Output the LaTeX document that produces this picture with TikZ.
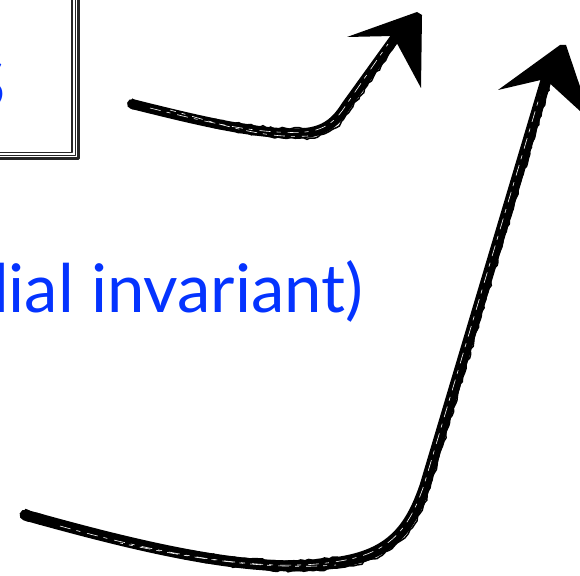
\documentclass[tikz,border=0pt]{standalone}
\usepackage{fontspec}
\setmainfont{Lato}
\usepackage{tikz}
\usetikzlibrary{positioning,decorations.pathmorphing}
\definecolor{SlideBlue}{HTML}{0433FF}

\begin{document}
\begin{tikzpicture}[x=1pt, y=-1pt, every node/.style={inner sep=0pt, text=SlideBlue, font=\fontsize{67}{72}\selectfont}, sketch/.style={draw=black!85, line join=round}, brush/.style={line width=#1, line cap=round, line join=round, black}, rough/.style={line width=#1, black, decorate, decoration={random steps, segment length=4pt, amplitude=1.2pt}}, streak/.style={line width=0.6pt, white, dash pattern=on 11pt off 6pt on 4pt off 7pt}, head/.style={fill=black}]
\pgfmathsetseed{7}
\useasboundingbox (0,0) rectangle (580,575);
\clip (0,0) rectangle (580,575);
\node[anchor=base east] (boxtxt) at (6,109) {S};
\node[anchor=base west] (inv) at (-29,312) {dial invariant)};
% sketched box, only its right and bottom sides show
\draw[sketch, line width=3pt] (-80,-40) rectangle (78,158);
\draw[sketch, line width=1.6pt] (-80,-40) rectangle (72,152.5);
\draw[sketch, line width=1pt] (-80,-40) rectangle (75.5,155.5);
\coordinate (a1s) at (132,104);
\coordinate (a1e) at (395,38);
\coordinate (a1t) at (417,12);
\coordinate (a2s) at (25,515);
\coordinate (a2e) at (547,77);
\coordinate (a2t) at (560,45);
% upper arrow
\draw[brush=10pt] (a1s) .. controls (200,121) and (262,136) .. (305,133) .. controls (325,131) and (336,122) .. (346,106) -- (a1e);
\draw[rough=1.5pt] ([yshift=-4.5pt]a1s) .. controls (200,116) and (262,131) .. (305,128.5);
\draw[rough=1.5pt] ([yshift=5pt]a1s) .. controls (200,126) and (262,141) .. (310,138) .. controls (331,135) and (341,126) .. (351,109) -- (399,40);
\draw[streak] (150,108) .. controls (210,123) and (262,135) .. (305,132) .. controls (325,130) and (336,121) .. (346,105) -- (388,44);
\draw[streak, dash phase=5pt] (170,110) .. controls (220,124) and (262,139) .. (308,136);
\fill[head] (a1t) -- (347,37) -- (393,36) -- (421,88) -- (422,15) -- cycle;
% lower arrow
\draw[brush=11pt] (a2s) .. controls (150,550) and (262,576) .. (340,562) .. controls (390,554) and (410,530) .. (425,486) -- (a2e);
\draw[rough=1.5pt] ([yshift=-5pt]a2s) .. controls (150,545) and (262,571) .. (338,557);
\draw[rough=1.5pt] ([yshift=5.5pt]a2s) .. controls (150,556) and (262,581) .. (345,567) .. controls (393,559) and (415,534) .. (430,488) -- (551,80);
\draw[streak] (60,526) .. controls (150,551) and (262,575) .. (340,561) .. controls (390,553) and (409,529) .. (424,485) -- (540,95);
\draw[streak, dash phase=8pt] (120,543) .. controls (200,560) and (270,570) .. (336,565);
\fill[head] (a2t) -- (498,90) -- (545,79) -- (592,122) -- (566,45) -- cycle;
\end{tikzpicture}
\end{document}
